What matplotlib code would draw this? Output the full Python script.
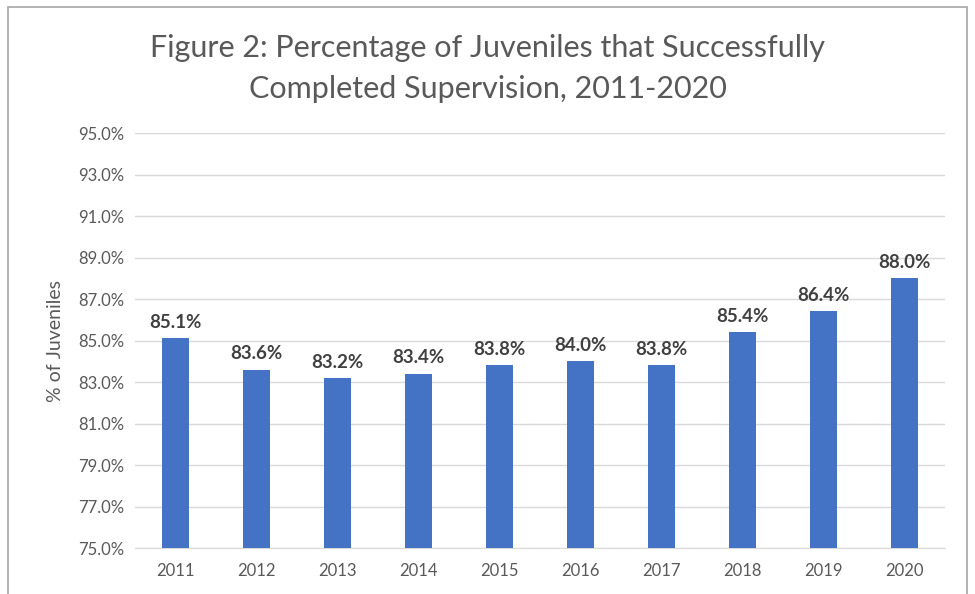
import matplotlib
matplotlib.use("Agg")
import matplotlib.pyplot as plt
from matplotlib.patches import Rectangle
from matplotlib.ticker import FuncFormatter

years = ["2011", "2012", "2013", "2014", "2015", "2016", "2017", "2018", "2019", "2020"]
pct = [85.1, 83.6, 83.2, 83.4, 83.8, 84.0, 83.8, 85.4, 86.4, 88.0]
y_ticks = [75, 77, 79, 81, 83, 85, 87, 89, 91, 93, 95]

plt.rcParams["font.family"] = ["Lato", "DejaVu Sans"]
text_gray = "#595959"

fig = plt.figure(figsize=(9.75, 5.94), dpi=100)
ax = fig.add_axes([0.1385, 0.0774, 0.8305, 0.6986])

x = range(len(years))
ax.bar(x, pct, width=0.33, color="#4472C4", zorder=3)
for xi, v in zip(x, pct):
    ax.text(xi, v + 0.35, f"{v:.1f}%", ha="center", va="bottom",
            fontsize=13.5, fontweight="bold", color="#404040")

ax.set_ylim(75, 95)
ax.set_xlim(-0.5, len(years) - 0.5)
ax.set_yticks(y_ticks)
ax.yaxis.set_major_formatter(FuncFormatter(lambda v, p: f"{v:.1f}%"))
ax.set_xticks(list(x))
ax.set_xticklabels(years)
ax.tick_params(axis="both", length=0, labelsize=12, colors=text_gray)
ax.tick_params(axis="x", pad=11)
ax.tick_params(axis="y", pad=8)
ax.grid(axis="y", color="#d9d9d9", linewidth=1, zorder=0)
for s in ["top", "right", "left"]:
    ax.spines[s].set_visible(False)
ax.spines["bottom"].set_color("#d9d9d9")
ax.set_ylabel("% of Juveniles", fontsize=14, color=text_gray, labelpad=10)

fig.text(0.5, 0.885, "Figure 2: Percentage of Juveniles that Successfully\nCompleted Supervision, 2011-2020",
         ha="center", va="center", fontsize=22, color=text_gray, linespacing=1.55)

# outer chart frame
fig.patches.append(Rectangle((8 / 975, -0.05), 959 / 975, 1 - 7 / 594 + 0.05,
                             transform=fig.transFigure, fill=False,
                             edgecolor="#a6a6a6", linewidth=1.2))

fig.savefig("out.png", dpi=100)
